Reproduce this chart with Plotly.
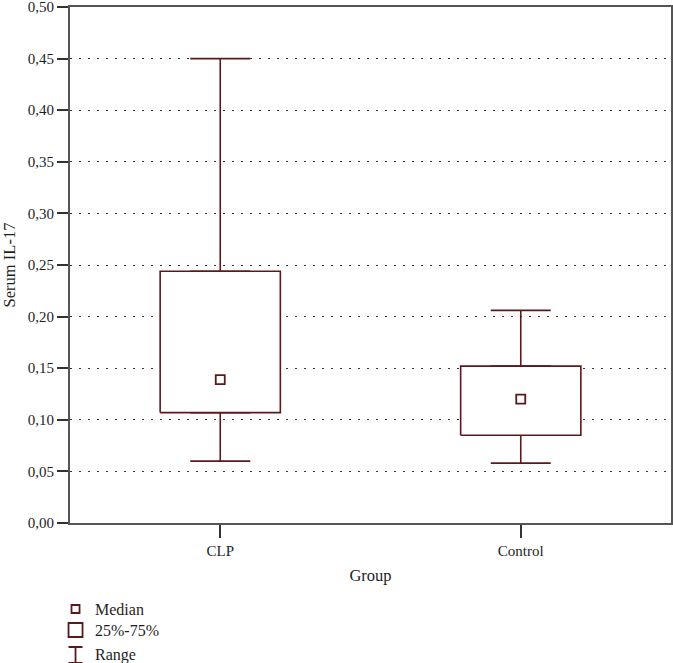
import plotly.graph_objects as go

# ── Data ────────────────────────────────────────────────
groups = ["CLP", "Control"]
minimum = [0.060, 0.058]
q1 = [0.107, 0.085]
median = [0.139, 0.120]
q3 = [0.244, 0.152]
maximum = [0.450, 0.206]

y_ticks = [0.00, 0.05, 0.10, 0.15, 0.20, 0.25, 0.30, 0.35, 0.40, 0.45, 0.50]

# ── Style ───────────────────────────────────────────────
MAROON = "#5a1a1c"
AXIS = "#555555"
FONT = "Liberation Serif, Times New Roman, serif"
TXT = "#1e1e1e"
HALF_BOX = 0.2

pos = list(range(len(groups)))

fig = go.Figure()

# whiskers (range) via error bars, drawn first so boxes sit on top
fig.add_trace(go.Scatter(
    x=pos, y=q3, mode="markers", marker=dict(size=0.1, color="rgba(0,0,0,0)"),
    error_y=dict(type="data", symmetric=False,
                 array=[mx - hi for mx, hi in zip(maximum, q3)],
                 arrayminus=[0] * len(pos),
                 color=MAROON, thickness=1.6, width=30),
    hoverinfo="skip", showlegend=False,
))
fig.add_trace(go.Scatter(
    x=pos, y=q1, mode="markers", marker=dict(size=0.1, color="rgba(0,0,0,0)"),
    error_y=dict(type="data", symmetric=False,
                 array=[0] * len(pos),
                 arrayminus=[lo - mn for lo, mn in zip(q1, minimum)],
                 color=MAROON, thickness=1.6, width=30),
    hoverinfo="skip", showlegend=False,
))

# boxes (25%-75%)
for p, lo, hi in zip(pos, q1, q3):
    fig.add_trace(go.Scatter(
        x=[p - HALF_BOX, p + HALF_BOX, p + HALF_BOX, p - HALF_BOX, p - HALF_BOX],
        y=[lo, lo, hi, hi, lo],
        mode="lines", fill="toself", fillcolor="white",
        line=dict(color=MAROON, width=1.6),
        hoverinfo="skip", showlegend=False,
    ))

# medians
fig.add_trace(go.Scatter(
    x=pos, y=median, mode="markers",
    marker=dict(symbol="square-open", size=9, color=MAROON, line=dict(width=1.8)),
    showlegend=False,
))

# ── Hand-drawn legend below the plot ────────────────────
legend_x = 0.0092
text_x = 0.038
legend_items = [("Median", -0.1667), ("25%-75%", -0.2074), ("Range", -0.2558)]

shapes = [
    dict(type="rect", xref="paper", yref="paper", xsizemode="pixel", ysizemode="pixel",
         xanchor=legend_x, yanchor=legend_items[0][1], x0=-4, x1=4, y0=-4, y1=4,
         line=dict(color=MAROON, width=1.8)),
    dict(type="rect", xref="paper", yref="paper", xsizemode="pixel", ysizemode="pixel",
         xanchor=legend_x, yanchor=legend_items[1][1], x0=-7, x1=7, y0=-7, y1=7,
         line=dict(color=MAROON, width=1.8)),
    dict(type="path", xref="paper", yref="paper", xsizemode="pixel", ysizemode="pixel",
         xanchor=legend_x, yanchor=legend_items[2][1],
         path="M-7,8 H7 M0,8 V-8 M-7,-8 H7",
         line=dict(color=MAROON, width=1.8)),
]

annotations = [
    dict(text=label, x=text_x, y=yy, xref="paper", yref="paper",
         xanchor="left", yanchor="middle", showarrow=False,
         font=dict(family=FONT, size=16, color=TXT))
    for label, yy in legend_items
]

fig.update_layout(
    width=673, height=663,
    margin=dict(l=70, r=2, t=7, b=140),
    paper_bgcolor="white", plot_bgcolor="white",
    separators=",.",
    font=dict(family=FONT, size=15, color=TXT),
    shapes=shapes,
    annotations=annotations,
    showlegend=False,
    xaxis=dict(
        range=[-0.5, 1.5], tickvals=pos, ticktext=groups,
        showgrid=False, zeroline=False, automargin=False,
        showline=True, linecolor=AXIS, linewidth=2, mirror=True,
        ticks="outside", ticklen=13, tickcolor="#333333", tickwidth=1.5,
        tickfont=dict(family=FONT, size=15, color=TXT),
        title=dict(text="Group", standoff=11,
                   font=dict(family=FONT, size=16.5, color=TXT)),
    ),
    yaxis=dict(
        range=[0, 0.5], tickvals=y_ticks, tickformat=".2f",
        showgrid=True, gridcolor="#333333", gridwidth=1, griddash="2px,7px",
        zeroline=False, automargin=False, ticklabeloverflow="allow",
        showline=True, linecolor=AXIS, linewidth=2, mirror=True,
        ticks="outside", ticklen=11, tickcolor="#333333", tickwidth=1.5,
        tickfont=dict(family=FONT, size=15, color=TXT),
        title=dict(text="Serum IL-17", standoff=8,
                   font=dict(family=FONT, size=16.5, color=TXT)),
    ),
)

# the page's default 8px body margin would push the fixed-size figure off-window
fig.write_html(
    "out.html",
    config={"displayModeBar": False},
    post_script="document.body.style.margin='0';document.body.style.overflow='hidden';",
)
